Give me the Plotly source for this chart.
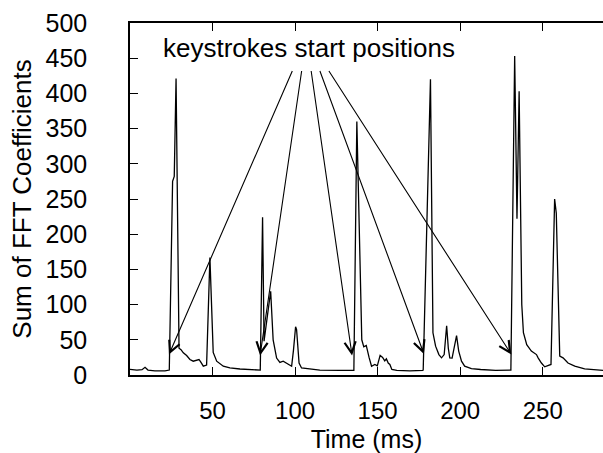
import plotly.graph_objects as go

# Time (ms) and summed FFT coefficient values
time_ms = [0, 4.2, 7.3, 9.1, 10.9, 15.1, 21.2, 23.8, 25.8, 26.8, 27.9, 29.7,
           30.9, 32.3, 34.3, 36.3, 38.3, 40.4, 41.8, 43.0, 44.4, 46.4, 48.4, 50.4, 52.5, 56.5, 60.5, 66.6, 72.6, 78.4,
           78.9, 80.3, 81.2, 85.2, 86.7, 88.8, 90.8, 92.8, 95.8, 97.9, 99.0, 100.3, 100.9, 102.4, 103.9, 109.0, 115.0, 127.0, 135.0,
           135.6, 137.4, 140.4, 141.6, 143.1, 144.8, 146.3, 148.3, 149.8, 151.5, 153.0, 154.3, 155.3, 156.4, 157.4, 158.6, 161.6, 169.5, 177.4,
           177.6, 182.0, 183.5, 185.1, 187.1, 188.7, 190.3, 191.8, 192.8, 193.7, 195.1, 197.8, 199.1, 200.8, 202.7, 206.8, 212.4, 221.4, 230.4,
           230.7, 233.0, 234.4, 235.7, 237.3, 238.3, 240.3, 243.1, 246.2, 247.2, 249.2, 251.2, 253.2, 255.0, 257.2, 258.2, 260.3, 262.3, 265.3, 269.4, 275.4, 283.5, 287.0]
fft_sum = [8, 7, 7.5, 11, 7, 6, 6, 7, 275, 282, 421, 38,
           36, 31.5, 27.7, 22, 19.6, 21, 22, 17.8, 12.5, 14, 167, 32, 19.6, 12.5, 10, 8.5, 7.5, 7,
           7, 224, 48, 119, 50, 24, 17.8, 19.6, 15, 12.5, 35, 68.5, 64.6, 17, 10, 8.8, 7, 6.5, 6.5,
           6.5, 360, 50, 40, 42, 25, 12.5, 15, 13, 28, 25, 20, 23, 17, 15, 8, 6.5, 6, 6.5,
           7.8, 420, 60, 41, 29, 24.4, 29, 70, 38, 24.4, 24, 56, 34, 19.6, 12.5, 9, 7.8, 6.5, 7,
           7, 453, 222, 403, 100, 60, 43, 34, 29, 24.4, 17, 11.6, 14, 15, 250, 230, 27, 24.4, 17, 12.5, 8.8, 6.8, 6.5]

# Keystroke start positions (arrow targets) and arrow tails
key_x = [23.6, 78.8, 134.5, 178.0, 231.0]
key_y = [29.1, 27.7, 27.7, 30.0, 29.1]
tail_x = [98.7, 104.1, 109.6, 114.7, 119.9]
tail_y = [434, 434, 434, 434, 434]
label_text = "keystrokes start positions"
label_pos = (108.4, 463.8)

x_ticks = [50, 100, 150, 200, 250]
y_ticks = [0, 50, 100, 150, 200, 250, 300, 350, 400, 450, 500]

FONT = "Liberation Sans, Arial, Helvetica, sans-serif"

fig = go.Figure()
fig.add_trace(go.Scatter(x=time_ms, y=fft_sum, mode="lines",
                         line=dict(color="black", width=1.3), showlegend=False,
                         hoverinfo="skip"))

for kx, ky, tx, ty in zip(key_x, key_y, tail_x, tail_y):
    fig.add_annotation(x=kx, y=ky, ax=tx, ay=ty, xref="x", yref="y",
                       axref="x", ayref="y", showarrow=True, text="",
                       arrowhead=5, arrowsize=2, arrowwidth=1.1,
                       arrowcolor="black")

fig.add_annotation(x=label_pos[0], y=label_pos[1], xref="x", yref="y",
                   text=label_text, showarrow=False, xanchor="center",
                   yanchor="middle", font=dict(family=FONT, size=26, color="black"))

fig.update_layout(
    width=603, height=453,
    margin=dict(l=130, r=0, t=23, b=78, pad=0),
    paper_bgcolor="white", plot_bgcolor="white",
    font=dict(family=FONT, size=25, color="black"),
    xaxis=dict(range=[0, 286.5], tickvals=x_ticks, ticks="inside", ticklen=8,
               tickwidth=1.2, tickcolor="black", showline=True, linecolor="black",
               linewidth=1.5, mirror="ticks", showgrid=False, zeroline=False,
               title=dict(text="Time (ms)", font=dict(size=25), standoff=9),
               tickfont=dict(size=24), ticklabelstandoff=13),
    yaxis=dict(range=[0, 500], tickvals=y_ticks, ticks="inside", ticklen=8,
               tickwidth=1.2, tickcolor="black", showline=True, linecolor="black",
               linewidth=1.5, mirror=False, showgrid=False, zeroline=False,
               title=dict(text="Sum of FFT Coefficients", font=dict(size=26), standoff=6),
               tickfont=dict(size=25), ticklabelstandoff=36),
)

fig.write_html("out.html")
